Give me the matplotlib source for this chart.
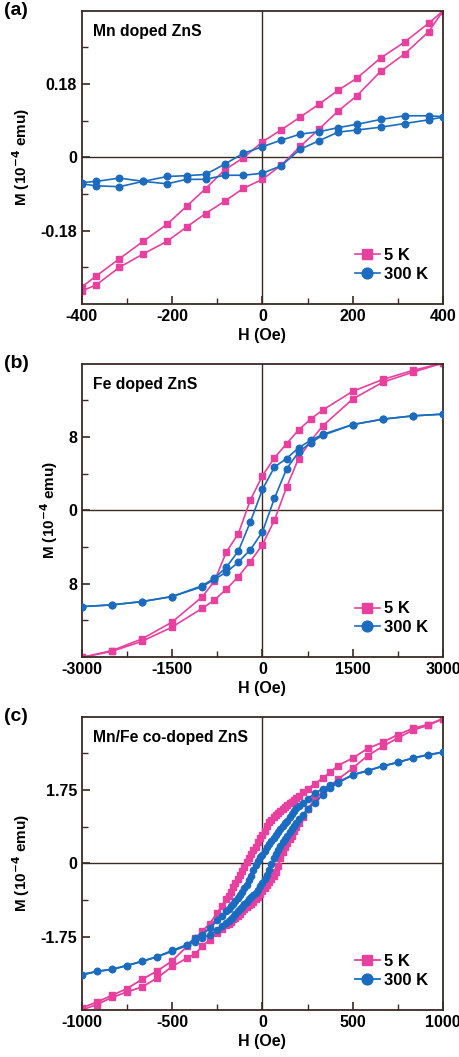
import matplotlib
matplotlib.use('Agg')
import matplotlib.pyplot as plt
from matplotlib.ticker import FixedLocator

plt.rcParams['font.family'] = ['Liberation Sans', 'DejaVu Sans']
plt.rcParams['font.weight'] = 'bold'
plt.rcParams['axes.unicode_minus'] = False
plt.rcParams['mathtext.default'] = 'bf'

PINK = '#e8409f'
BLUE = '#1b6cc0'
EDGE = '#3a2a22'

# ---- (a) Mn doped ZnS ----
a_5k_up_h = [400, 368, 315, 262, 209, 168, 126, 84, 41, 0, -42, -84, -126, -168, -211, -264, -317, -368, -400]
a_5k_up_m = [0.359, 0.329, 0.283, 0.244, 0.194, 0.165, 0.131, 0.099, 0.067, 0.038, -0.001, -0.031, -0.077,
             -0.120, -0.164, -0.206, -0.249, -0.291, -0.318]
a_5k_dn_h = [-400, -368, -317, -264, -211, -168, -126, -84, -42, 0, 41, 84, 126, 168, 209, 262, 315, 368, 400]
a_5k_dn_m = [-0.328, -0.313, -0.270, -0.237, -0.206, -0.171, -0.138, -0.108, -0.076, -0.054, -0.020, 0.027,
             0.070, 0.114, 0.151, 0.211, 0.254, 0.308, 0.359]
a_300k_up_h = a_5k_up_h
a_300k_up_m = [0.100, 0.102, 0.102, 0.093, 0.081, 0.073, 0.063, 0.057, 0.042, 0.026, 0.010, -0.017, -0.042,
               -0.045, -0.047, -0.059, -0.051, -0.059, -0.062]
a_300k_dn_h = a_5k_dn_h
a_300k_dn_m = [-0.065, -0.070, -0.072, -0.059, -0.065, -0.054, -0.054, -0.044, -0.044, -0.039, -0.021, 0.020,
               0.041, 0.062, 0.067, 0.074, 0.083, 0.092, 0.099]

# ---- (b) Fe doped ZnS ----
b_up_h = [3000, 2500, 2000, 1500, 1000, 800, 600, 400, 200, 0, -200, -400, -600, -800, -1000, -1500, -2000, -2500, -3000]
b_dn_h = b_up_h[::-1]
b_5k_up_m = [16.07, 15.27, 14.28, 12.99, 10.94, 9.95, 8.77, 7.27, 5.73, 3.78, 1.14, -2.53, -4.55, -7.74,
             -9.43, -12.18, -14.02, -15.30, -16.04]
b_5k_dn_m = [-16.04, -15.38, -14.28, -12.73, -10.68, -9.80, -8.59, -7.23, -5.58, -3.74, -1.06, 2.50, 5.65,
             7.56, 9.21, 12.15, 13.98, 15.08, 16.07]
b_300k_up_m = [10.50, 10.31, 9.95, 9.36, 8.29, 7.63, 6.83, 5.65, 4.73, 2.28, -1.25, -4.44, -6.20, -7.41,
               -8.22, -9.40, -9.95, -10.31, -10.50]
b_300k_dn_m = [-10.50, -10.31, -9.95, -9.40, -8.33, -7.52, -6.75, -5.65, -4.29, -2.35, 1.32, 4.51, 6.35,
               7.38, 8.18, 9.36, 9.95, 10.31, 10.50]

# ---- (c) Mn/Fe co-doped ZnS ----
c_up_h = [1000, 917, 833, 750, 667, 583, 500, 417, 375, 333, 292, 250, 225,
          200, 187.5, 175, 162.5, 150, 137.5, 125, 112.5, 100, 87.5, 75, 62.5, 50, 37.5, 25, 12.5, 0,
          -12.5, -25, -37.5, -50, -62.5, -75, -87.5, -100, -112.5, -125, -137.5, -150, -162.5, -175, -187.5, -200,
          -225, -250, -292, -333, -375, -417, -500, -583, -667, -750, -833, -917, -1000]
c_dn_h = c_up_h[::-1]
c_5k_up_m = [3.45, 3.31, 3.22, 3.07, 2.89, 2.74, 2.51, 2.33, 2.17, 2.03, 1.90, 1.78, 1.70,
             1.61, 1.56, 1.51, 1.47, 1.43, 1.39, 1.34, 1.30, 1.25, 1.20, 1.15, 1.10, 1.04, 0.98, 0.88, 0.76, 0.68,
             0.60, 0.50, 0.40, 0.31, 0.22, 0.13, 0.03, -0.08, -0.18, -0.28, -0.37, -0.46, -0.57, -0.68, -0.77, -0.86,
             -1.02, -1.18, -1.44, -1.62, -1.79, -1.98, -2.33, -2.57, -2.77, -2.99, -3.15, -3.31, -3.45]
c_5k_dn_m = [-3.50, -3.37, -3.20, -3.07, -2.95, -2.74, -2.46, -2.26, -2.17, -1.98, -1.82, -1.66, -1.57,
             -1.48, -1.44, -1.39, -1.34, -1.30, -1.25, -1.20, -1.15, -1.10, -1.05, -1.00, -0.96, -0.92, -0.86,
             -0.80, -0.73, -0.66,
             -0.60, -0.52, -0.45, -0.38, -0.30, -0.20, -0.06, 0.12, 0.26, 0.38, 0.48, 0.57, 0.66, 0.76, 0.86, 0.95,
             1.10, 1.30, 1.53, 1.70, 1.85, 2.00, 2.27, 2.57, 2.79, 2.99, 3.18, 3.29, 3.45]
c_300k_up_m = [2.65, 2.59, 2.51, 2.41, 2.32, 2.21, 2.11, 1.93, 1.87, 1.77, 1.68, 1.53, 1.45,
               1.37, 1.31, 1.25, 1.18, 1.10, 1.02, 0.95, 0.88, 0.81, 0.74, 0.68, 0.61, 0.54, 0.47, 0.39, 0.30, 0.21,
               0.14, 0.06, -0.04, -0.16, -0.30, -0.41, -0.51, -0.60, -0.68, -0.75, -0.82, -0.89, -0.96, -1.02,
               -1.08, -1.13,
               -1.26, -1.36, -1.55, -1.70, -1.79, -1.94, -2.08, -2.23, -2.34, -2.44, -2.53, -2.58, -2.66]
c_300k_dn_m = [-2.66, -2.58, -2.53, -2.44, -2.34, -2.23, -2.10, -1.96, -1.87, -1.79, -1.70, -1.60, -1.50,
               -1.42, -1.38, -1.33, -1.27, -1.21, -1.15, -1.09, -1.04, -0.98, -0.92, -0.86, -0.80, -0.75, -0.70,
               -0.63, -0.55, -0.47,
               -0.37, -0.27, -0.16, -0.02, 0.12, 0.22, 0.32, 0.42, 0.50, 0.58, 0.66, 0.74, 0.82, 0.90, 0.97, 1.05,
               1.16, 1.30, 1.45, 1.63, 1.80, 1.92, 2.11, 2.21, 2.32, 2.41, 2.51, 2.59, 2.65]

panels = [
    dict(tag='(a)', title='Mn doped ZnS', xlim=400, xmajor=[-400, -200, 0, 200, 400],
         xminor=[-300, -100, 100, 300], ylim=0.36, ymajor=[-0.18, 0, 0.18],
         ylabels=['-0.18', '0', '0.18'], yminor=[-0.27, -0.09, 0.09, 0.27],
         pink=[(a_5k_up_h, a_5k_up_m), (a_5k_dn_h, a_5k_dn_m)],
         blue=[(a_300k_up_h, a_300k_up_m), (a_300k_dn_h, a_300k_dn_m)], ms=4.0, lw=1.2),
    dict(tag='(b)', title='Fe doped ZnS', xlim=3000, xmajor=[-3000, -1500, 0, 1500, 3000],
         xminor=[-2250, -750, 750, 2250], ylim=16, ymajor=[-8, 0, 8],
         ylabels=['8', '0', '8'], yminor=[-12, -4, 4, 12],
         pink=[(b_up_h, b_5k_up_m), (b_dn_h, b_5k_dn_m)],
         blue=[(b_up_h, b_300k_up_m), (b_dn_h, b_300k_dn_m)], ms=4.0, lw=1.2),
    dict(tag='(c)', title='Mn/Fe co-doped ZnS', xlim=1000, xmajor=[-1000, -500, 0, 500, 1000],
         xminor=[-750, -250, 250, 750], ylim=3.5, ymajor=[-1.75, 0, 1.75],
         ylabels=['-1.75', '0', '1.75'], yminor=[-2.625, -0.875, 0.875, 2.625],
         pink=[(c_up_h, c_5k_up_m), (c_dn_h, c_5k_dn_m)],
         blue=[(c_up_h, c_300k_up_m), (c_dn_h, c_300k_dn_m)], ms=3.8, lw=1.3),
]

fig = plt.figure(figsize=(4.6, 10.57), dpi=100)
bottoms = [0.7124, 0.3784, 0.0445]

for p, b in zip(panels, bottoms):
    ax = fig.add_axes([0.178, b, 0.785, 0.2775])
    ax.axhline(0, color=EDGE, lw=1.0, zorder=1)
    ax.axvline(0, color=EDGE, lw=1.0, zorder=1)
    for i, (h, m) in enumerate(p['pink']):
        ax.plot(h, m, color=PINK, marker='s', ms=p['ms'], lw=p['lw'], zorder=2,
                label='5 K' if i == 0 else None)
    for i, (h, m) in enumerate(p['blue']):
        ax.plot(h, m, color=BLUE, marker='o', ms=p['ms'] + 0.7, lw=p['lw'], zorder=3,
                label='300 K' if i == 0 else None)

    ax.set_xlim(-p['xlim'], p['xlim'])
    ax.set_ylim(-p['ylim'], p['ylim'])
    ax.xaxis.set_major_locator(FixedLocator(p['xmajor']))
    ax.xaxis.set_minor_locator(FixedLocator(p['xminor']))
    ax.yaxis.set_major_locator(FixedLocator(p['ymajor']))
    ax.yaxis.set_minor_locator(FixedLocator(p['yminor']))
    ax.set_yticklabels(p['ylabels'])
    ax.set_xticklabels([str(v) for v in p['xmajor']])
    ax.tick_params(which='major', direction='in', length=6, width=1.2, labelsize=11.5,
                   top=False, right=False, colors=EDGE, labelcolor='black', pad=3.5)
    ax.tick_params(which='minor', direction='in', length=4, width=1.0,
                   top=False, right=False, colors=EDGE)
    for s in ax.spines.values():
        s.set_color(EDGE)
        s.set_linewidth(1.3)

    ax.set_xlabel('H (Oe)', fontsize=11.5, fontweight='bold', labelpad=3)
    ax.set_ylabel(r'M (10$^{-4}$ emu)', fontsize=11, fontweight='bold', labelpad=6)
    ax.text(0.03, 0.955, p['title'], transform=ax.transAxes, ha='left', va='top',
            fontsize=11.3, fontweight='bold')
    ax.text(-0.215, 1.03, p['tag'], transform=ax.transAxes, ha='left', va='top',
            fontsize=14, fontweight='bold')

    ax.legend(loc='lower right', bbox_to_anchor=(1.0, 0.025), frameon=False,
              fontsize=12, handlelength=1.5, handletextpad=0.25, labelspacing=0.2,
              markerscale=6.6 / p['ms'])

fig.savefig('out.png', dpi=100)
